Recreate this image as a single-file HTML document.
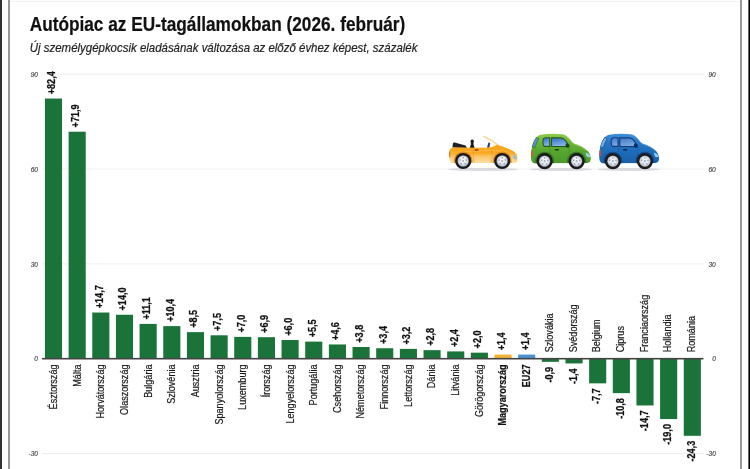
<!DOCTYPE html>
<html lang="hu"><head><meta charset="utf-8"><title>Autópiac az EU-tagállamokban</title>
<style>
html,body{margin:0;padding:0;background:#fff;}
body{width:750px;height:469px;overflow:hidden;position:relative;}
svg{display:block;position:absolute;left:0;top:0;}
text{font-family:"Liberation Sans",sans-serif;}
.lb{font-size:10.0px;fill:#1a1a1a;stroke:#1a1a1a;stroke-width:0.2px;}
.vl{font-size:10.0px;font-weight:bold;fill:#111;stroke:#111;stroke-width:0.25px;}
.b{font-weight:bold;fill:#111;stroke:#111;stroke-width:0.2px;}
.ax{font-size:6.6px;font-style:italic;fill:#444;stroke:#444;stroke-width:0.15px;}
</style></head><body>
<svg width="750" height="469" viewBox="0 0 750 469">

<defs>
<linearGradient id="gy" x1="0" y1="0" x2="0" y2="1"><stop offset="0" stop-color="#f9a61c"/><stop offset="0.45" stop-color="#f9a822"/><stop offset="0.62" stop-color="#fbc363"/><stop offset="1" stop-color="#fde0a4"/></linearGradient>
<linearGradient id="gg" x1="0" y1="0" x2="0" y2="1"><stop offset="0" stop-color="#8ecb4a"/><stop offset="0.3" stop-color="#6db53a"/><stop offset="0.6" stop-color="#56a530"/><stop offset="1" stop-color="#4a992b"/></linearGradient>
<linearGradient id="gb" x1="0" y1="0" x2="0" y2="1"><stop offset="0" stop-color="#3e90d8"/><stop offset="0.3" stop-color="#2678c6"/><stop offset="0.6" stop-color="#1d6cba"/><stop offset="1" stop-color="#1a60a8"/></linearGradient>
<linearGradient id="gwg" x1="0" y1="0" x2="0.3" y2="1"><stop offset="0" stop-color="#2f6fc8"/><stop offset="1" stop-color="#86b6ea"/></linearGradient>
<linearGradient id="gwb" x1="0" y1="0" x2="0.3" y2="1"><stop offset="0" stop-color="#3f7ac8"/><stop offset="1" stop-color="#7aaae0"/></linearGradient>
<radialGradient id="gh" cx="0.5" cy="0.45" r="0.55"><stop offset="0" stop-color="#ffffff"/><stop offset="0.55" stop-color="#e6e9f0"/><stop offset="1" stop-color="#b4bacb"/></radialGradient>
<g id="wheel"><circle r="8.1" fill="#1b1b1d"/><circle r="5.9" fill="#3a3a40"/><circle r="5.5" fill="url(#gh)"/>
<g fill="#8a90a6"><circle cx="0" cy="-3.3" r="0.75"/><circle cx="3.1" cy="-1" r="0.75"/><circle cx="1.9" cy="2.7" r="0.75"/><circle cx="-1.9" cy="2.7" r="0.75"/><circle cx="-3.1" cy="-1" r="0.75"/></g>
<circle r="1.1" fill="#a9aec0"/></g>
<clipPath id="cy"><path d="M451 163 Q448.4 158 449.1 152 Q449.5 147.6 454 147.4 L487 147.7 Q493 147.3 497.2 144.7 Q506 147.2 512 150.6 Q516.8 153.2 517.3 156.5 L517.4 160.6 Q517.2 162.9 514.8 163.1 L451 163 Z"/></clipPath>
<clipPath id="ch"><path d="M531 158 Q530.4 150 533.4 143 Q535.6 136.2 540.6 134.8 Q551 133.2 562 134.2 Q566.6 135 569.6 138.8 Q571.8 142 574 143.6 Q583 146.4 588.2 151.4 Q591.2 155 590.6 160 Q590.2 162.8 587.6 163 L534.2 163.2 Q531.2 162.6 531 158 Z"/></clipPath>
</defs>

<rect x="0" y="0" width="750" height="469" fill="#fff"/>
<rect x="0" y="0" width="2" height="469" fill="#333"/>
<rect x="748.4" y="0" width="1.6" height="469" fill="#000"/>
<rect x="8" y="0" width="2" height="469" fill="#999"/>
<rect x="740" y="0" width="2" height="469" fill="#999"/>
<rect x="10" y="1" width="730" height="1" fill="#f3f3f3"/>
<text x="29.7" y="31.1" font-size="19.4" font-weight="bold" fill="#111" stroke="#111" stroke-width="0.2" textLength="375.6" lengthAdjust="spacingAndGlyphs">Autópiac az EU-tagállamokban (2026. február)</text>
<text x="29.8" y="51.8" font-size="13.1" font-style="italic" fill="#222" stroke="#222" stroke-width="0.2" textLength="387.6" lengthAdjust="spacingAndGlyphs">Új személygépkocsik eladásának változása az előző évhez képest, százalék</text>
<rect x="42" y="73.71" width="662" height="1" fill="#efefef"/>
<text class="ax" x="38" y="77.01" text-anchor="end">90</text>
<text class="ax" x="715.8" y="77.01" text-anchor="end">90</text>
<rect x="42" y="168.54" width="662" height="1" fill="#efefef"/>
<text class="ax" x="38" y="171.84" text-anchor="end">60</text>
<text class="ax" x="715.8" y="171.84" text-anchor="end">60</text>
<rect x="42" y="263.37" width="662" height="1" fill="#efefef"/>
<text class="ax" x="38" y="266.67" text-anchor="end">30</text>
<text class="ax" x="715.8" y="266.67" text-anchor="end">30</text>
<rect x="42" y="453.03" width="662" height="1" fill="#efefef"/>
<text class="ax" x="38" y="456.33" text-anchor="end">-30</text>
<text class="ax" x="715.8" y="456.33" text-anchor="end">-30</text>
<text class="ax" x="38" y="360.90" text-anchor="end">0</text>
<text class="ax" x="715.8" y="360.90" text-anchor="end">0</text>
<g id="cars">
<!-- ground shadows -->
<ellipse cx="483" cy="169.4" rx="35" ry="1.5" fill="#d4d4da" opacity="0.85"/>
<ellipse cx="561" cy="169.4" rx="31" ry="1.5" fill="#d4d4da" opacity="0.85"/>
<ellipse cx="629" cy="169.4" rx="31" ry="1.5" fill="#d4d4da" opacity="0.85"/>
<!-- yellow convertible -->
<g>
<path d="M484.2 136.8 L498 145.2 L492 147.6 Z" fill="#fdf4de" opacity="0.8"/>
<path d="M483.5 136.3 Q491.5 139.6 498.4 145.4" stroke="#f3cf82" stroke-width="1.1" fill="none" stroke-linecap="round"/>
<path d="M452.9 143.4 Q453 142.4 454.6 142.5 L465.6 145.4 L467 148 L452.4 147.6 Z" fill="#202022"/>
<path d="M470.6 141.8 a1.7 1.7 0 1 1 3.2 0 l-0.4 2.2 l1.2 4 h-4.8 l1.2 -4 Z" fill="#1b1b1d"/>
<path d="M487 147.8 L488.4 142.6 L490.2 142.9 L489.4 147.8 Z" fill="#273a80"/>
<path d="M451 163 Q448.4 158 449.1 152 Q449.5 147.6 454 147.4 L487 147.7 Q493 147.3 497.2 144.7 Q506 147.2 512 150.6 Q516.8 153.2 517.3 156.5 L517.4 160.6 Q517.2 162.9 514.8 163.1 L451 163 Z" fill="url(#gy)"/>
<path d="M450 153 Q470 150.6 492 150.4 Q505 150.8 512 153.4" stroke="#fbc35e" stroke-width="0.7" fill="none" opacity="0.8"/>
<path d="M473.2 148 Q472.6 156 474.4 162.6 M491 148 Q493.6 155 491.4 162.6" stroke="#e59416" stroke-width="0.5" fill="none"/>
<rect x="474.6" y="149.3" width="4" height="1.5" rx="0.6" fill="#a8380f"/>
<path d="M513.4 154.4 Q516.9 155.2 517.1 159.6 L514 159 Q512.6 156.6 513.4 154.4 Z" fill="#9bbcd6"/>
<path d="M449.2 151.4 L450.5 151.4 L450.3 157 L449 157 Z" fill="#ea7a2a"/>
<g clip-path="url(#cy)"><circle cx="463.2" cy="161" r="9.5" fill="#d98618" opacity="0.85"/><circle cx="502.2" cy="161" r="9.5" fill="#d98618" opacity="0.85"/></g>
<use href="#wheel" x="463.2" y="161"/><use href="#wheel" x="502.2" y="161"/>
</g>
<!-- green hatchback -->
<g>
<path d="M531 158 Q530.4 150 533.4 143 Q535.6 136.2 540.6 134.8 Q551 133.2 562 134.2 Q566.6 135 569.6 138.8 Q571.8 142 574 143.6 Q583 146.4 588.2 151.4 Q591.2 155 590.6 160 Q590.2 162.8 587.6 163 L534.2 163.2 Q531.2 162.6 531 158 Z" fill="url(#gg)"/>
<path d="M563 134.6 Q567 135.6 569.6 139.4 Q571.6 142.4 574 144 Q582 146.4 587 150.8" stroke="#a5d868" stroke-width="0.8" fill="none" opacity="0.8"/>
<path d="M532.2 146.8 Q533.6 141 536.4 137.4 L538.8 138.6 Q536.4 142.8 534.8 147.8 Z" fill="#5a90d4" stroke="#2d5c1c" stroke-width="0.6"/>
<path d="M543 140 Q543.4 137.8 545.6 137.8 L549.6 137.8 L549.8 146.4 L544.4 146.4 Q542.6 146 543 140 Z" fill="url(#gwg)" stroke="#2b5a1b" stroke-width="1.1"/>
<path d="M551.4 137.8 L561 137.9 Q563.8 138.2 565.6 140.6 L568.6 145.2 Q569 146.6 567.6 146.6 L551.6 146.4 Z" fill="url(#gwg)" stroke="#2b5a1b" stroke-width="1.1"/>
<path d="M565.8 143.6 q3.4 -0.4 3.8 2.2 q0.2 1.8 -1.6 2 q-2.4 0.2 -2.4 -2 Z" fill="#1f4414"/>
<rect x="554.8" y="149" width="4.1" height="1.5" rx="0.6" fill="#1b3a12"/>
<path d="M550 147 Q549.6 155 550.6 162.8 M569.6 147.6 Q568.8 155 569.4 162.8" stroke="#3d8423" stroke-width="0.5" fill="none"/>
<path d="M585.8 152.4 Q589.8 153.4 590.4 157.2 L587.2 157 Q585.4 155 585.8 152.4 Z" fill="#93d8e6"/>
<path clip-path="url(#ch)" d="M530 150 L532.8 150 L532.9 156 L530 156 Z" fill="#d2603a"/>
<g clip-path="url(#ch)"><circle cx="544.6" cy="161.2" r="9.5" fill="#2f701c" opacity="0.85"/><circle cx="576.6" cy="161.2" r="9.5" fill="#2f701c" opacity="0.85"/></g>
<use href="#wheel" x="544.6" y="161.2"/><use href="#wheel" x="576.6" y="161.2"/>
</g>
<!-- blue hatchback -->
<g transform="translate(68.3,0)">
<path d="M531 158 Q530.4 150 533.4 143 Q535.6 136.2 540.6 134.8 Q551 133.2 562 134.2 Q566.6 135 569.6 138.8 Q571.8 142 574 143.6 Q583 146.4 588.2 151.4 Q591.2 155 590.6 160 Q590.2 162.8 587.6 163 L534.2 163.2 Q531.2 162.6 531 158 Z" fill="url(#gb)"/>
<path d="M563 134.6 Q567 135.6 569.6 139.4 Q571.6 142.4 574 144 Q582 146.4 587 150.8" stroke="#5aa6e6" stroke-width="0.8" fill="none" opacity="0.7"/>
<path d="M532.2 146.8 Q533.6 141 536.4 137.4 L538.8 138.6 Q536.4 142.8 534.8 147.8 Z" fill="#7fb2ea" stroke="#123c78" stroke-width="0.6"/>
<path d="M543 140 Q543.4 137.8 545.6 137.8 L549.6 137.8 L549.8 146.4 L544.4 146.4 Q542.6 146 543 140 Z" fill="url(#gwb)" stroke="#123c78" stroke-width="1.1"/>
<path d="M551.4 137.8 L561 137.9 Q563.8 138.2 565.6 140.6 L568.6 145.2 Q569 146.6 567.6 146.6 L551.6 146.4 Z" fill="url(#gwb)" stroke="#123c78" stroke-width="1.1"/>
<path d="M565.8 143.6 q3.4 -0.4 3.8 2.2 q0.2 1.8 -1.6 2 q-2.4 0.2 -2.4 -2 Z" fill="#0d2d5e"/>
<rect x="554.8" y="149" width="4.1" height="1.5" rx="0.6" fill="#0b2852"/>
<path d="M550 147 Q549.6 155 550.6 162.8 M569.6 147.6 Q568.8 155 569.4 162.8" stroke="#14549a" stroke-width="0.5" fill="none"/>
<path d="M585.8 152.4 Q589.8 153.4 590.4 157.2 L587.2 157 Q585.4 155 585.8 152.4 Z" fill="#86ccf4"/>
<path clip-path="url(#ch)" d="M530 150 L532.8 150 L532.9 156 L530 156 Z" fill="#b4563e"/>
<g clip-path="url(#ch)"><circle cx="544.6" cy="161.2" r="9.5" fill="#0f4384" opacity="0.85"/><circle cx="576.6" cy="161.2" r="9.5" fill="#0f4384" opacity="0.85"/></g>
<use href="#wheel" x="544.6" y="161.2"/><use href="#wheel" x="576.6" y="161.2"/>
</g>
</g>

<rect x="44.95" y="98.53" width="17.10" height="260.27" fill="#1a7339"/>
<text class="lb" text-anchor="end" transform="translate(56.90,364.5) rotate(-90) scale(0.908,1)">Észtország</text>
<text class="vl" text-anchor="start" transform="translate(55.40,94.23) rotate(-90) scale(0.908,1)">+82,4</text>
<rect x="68.61" y="131.72" width="17.10" height="227.08" fill="#1a7339"/>
<text class="lb" text-anchor="end" transform="translate(80.56,364.5) rotate(-90) scale(0.908,1)">Málta</text>
<text class="vl" text-anchor="start" transform="translate(79.06,127.42) rotate(-90) scale(0.908,1)">+71,9</text>
<rect x="92.27" y="312.53" width="17.10" height="46.27" fill="#1a7339"/>
<text class="lb" text-anchor="end" transform="translate(104.22,364.5) rotate(-90) scale(0.908,1)">Horvátország</text>
<text class="vl" text-anchor="start" transform="translate(102.72,308.23) rotate(-90) scale(0.908,1)">+14,7</text>
<rect x="115.93" y="314.75" width="17.10" height="44.05" fill="#1a7339"/>
<text class="lb" text-anchor="end" transform="translate(127.88,364.5) rotate(-90) scale(0.908,1)">Olaszország</text>
<text class="vl" text-anchor="start" transform="translate(126.38,310.45) rotate(-90) scale(0.908,1)">+14,0</text>
<rect x="139.59" y="323.91" width="17.10" height="34.89" fill="#1a7339"/>
<text class="lb" text-anchor="end" transform="translate(151.54,364.5) rotate(-90) scale(0.908,1)">Bulgária</text>
<text class="vl" text-anchor="start" transform="translate(150.04,319.61) rotate(-90) scale(0.908,1)">+11,1</text>
<rect x="163.25" y="326.13" width="17.10" height="32.67" fill="#1a7339"/>
<text class="lb" text-anchor="end" transform="translate(175.20,364.5) rotate(-90) scale(0.908,1)">Szlovénia</text>
<text class="vl" text-anchor="start" transform="translate(173.70,321.83) rotate(-90) scale(0.908,1)">+10,4</text>
<rect x="186.91" y="332.13" width="17.10" height="26.67" fill="#1a7339"/>
<text class="lb" text-anchor="end" transform="translate(198.86,364.5) rotate(-90) scale(0.908,1)">Ausztria</text>
<text class="vl" text-anchor="start" transform="translate(197.36,327.83) rotate(-90) scale(0.908,1)">+8,5</text>
<rect x="210.57" y="335.29" width="17.10" height="23.51" fill="#1a7339"/>
<text class="lb" text-anchor="end" transform="translate(222.52,364.5) rotate(-90) scale(0.908,1)">Spanyolország</text>
<text class="vl" text-anchor="start" transform="translate(221.02,330.99) rotate(-90) scale(0.908,1)">+7,5</text>
<rect x="234.23" y="336.87" width="17.10" height="21.93" fill="#1a7339"/>
<text class="lb" text-anchor="end" transform="translate(246.18,364.5) rotate(-90) scale(0.908,1)">Luxemburg</text>
<text class="vl" text-anchor="start" transform="translate(244.68,332.57) rotate(-90) scale(0.908,1)">+7,0</text>
<rect x="257.89" y="337.19" width="17.10" height="21.61" fill="#1a7339"/>
<text class="lb" text-anchor="end" transform="translate(269.84,364.5) rotate(-90) scale(0.908,1)">Írország</text>
<text class="vl" text-anchor="start" transform="translate(268.34,332.89) rotate(-90) scale(0.908,1)">+6,9</text>
<rect x="281.55" y="340.03" width="17.10" height="18.77" fill="#1a7339"/>
<text class="lb" text-anchor="end" transform="translate(293.50,364.5) rotate(-90) scale(0.908,1)">Lengyelország</text>
<text class="vl" text-anchor="start" transform="translate(292.00,335.73) rotate(-90) scale(0.908,1)">+6,0</text>
<rect x="305.21" y="341.61" width="17.10" height="17.19" fill="#1a7339"/>
<text class="lb" text-anchor="end" transform="translate(317.16,364.5) rotate(-90) scale(0.908,1)">Portugália</text>
<text class="vl" text-anchor="start" transform="translate(315.66,337.31) rotate(-90) scale(0.908,1)">+5,5</text>
<rect x="328.87" y="344.46" width="17.10" height="14.34" fill="#1a7339"/>
<text class="lb" text-anchor="end" transform="translate(340.82,364.5) rotate(-90) scale(0.908,1)">Csehország</text>
<text class="vl" text-anchor="start" transform="translate(339.32,340.16) rotate(-90) scale(0.908,1)">+4,6</text>
<rect x="352.53" y="346.99" width="17.10" height="11.81" fill="#1a7339"/>
<text class="lb" text-anchor="end" transform="translate(364.48,364.5) rotate(-90) scale(0.908,1)">Németország</text>
<text class="vl" text-anchor="start" transform="translate(362.98,342.69) rotate(-90) scale(0.908,1)">+3,8</text>
<rect x="376.19" y="348.25" width="17.10" height="10.55" fill="#1a7339"/>
<text class="lb" text-anchor="end" transform="translate(388.14,364.5) rotate(-90) scale(0.908,1)">Finnország</text>
<text class="vl" text-anchor="start" transform="translate(386.64,343.95) rotate(-90) scale(0.908,1)">+3,4</text>
<rect x="399.85" y="348.88" width="17.10" height="9.92" fill="#1a7339"/>
<text class="lb" text-anchor="end" transform="translate(411.80,364.5) rotate(-90) scale(0.908,1)">Lettország</text>
<text class="vl" text-anchor="start" transform="translate(410.30,344.58) rotate(-90) scale(0.908,1)">+3,2</text>
<rect x="423.51" y="350.15" width="17.10" height="8.65" fill="#1a7339"/>
<text class="lb" text-anchor="end" transform="translate(435.46,364.5) rotate(-90) scale(0.908,1)">Dánia</text>
<text class="vl" text-anchor="start" transform="translate(433.96,345.85) rotate(-90) scale(0.908,1)">+2,8</text>
<rect x="447.17" y="351.41" width="17.10" height="7.39" fill="#1a7339"/>
<text class="lb" text-anchor="end" transform="translate(459.12,364.5) rotate(-90) scale(0.908,1)">Litvánia</text>
<text class="vl" text-anchor="start" transform="translate(457.62,347.11) rotate(-90) scale(0.908,1)">+2,4</text>
<rect x="470.83" y="352.68" width="17.10" height="6.12" fill="#1a7339"/>
<text class="lb" text-anchor="end" transform="translate(482.78,364.5) rotate(-90) scale(0.908,1)">Görögország</text>
<text class="vl" text-anchor="start" transform="translate(481.28,348.38) rotate(-90) scale(0.908,1)">+2,0</text>
<rect x="494.49" y="354.57" width="17.10" height="4.23" fill="#f2b231"/>
<text class="lb b" text-anchor="end" transform="translate(506.44,364.5) rotate(-90) scale(0.908,1)">Magyarország</text>
<text class="vl" text-anchor="start" transform="translate(504.94,350.27) rotate(-90) scale(0.908,1)">+1,4</text>
<rect x="518.15" y="354.57" width="17.10" height="4.23" fill="#4a90d2"/>
<text class="lb b" text-anchor="end" transform="translate(530.10,364.5) rotate(-90) scale(0.908,1)">EU27</text>
<text class="vl" text-anchor="start" transform="translate(528.60,350.27) rotate(-90) scale(0.908,1)">+1,4</text>
<rect x="541.81" y="358.5" width="17.10" height="3.34" fill="#1a7339"/>
<text class="lb" text-anchor="start" transform="translate(553.16,352.3) rotate(-90) scale(0.908,1)">Szlovákia</text>
<text class="vl" text-anchor="end" transform="translate(553.16,366.84) rotate(-90) scale(0.908,1)">-0,9</text>
<rect x="565.47" y="358.5" width="17.10" height="4.93" fill="#1a7339"/>
<text class="lb" text-anchor="start" transform="translate(576.82,352.3) rotate(-90) scale(0.908,1)">Svédország</text>
<text class="vl" text-anchor="end" transform="translate(576.82,368.43) rotate(-90) scale(0.908,1)">-1,4</text>
<rect x="589.13" y="358.5" width="17.10" height="24.84" fill="#1a7339"/>
<text class="lb" text-anchor="start" transform="translate(600.48,352.3) rotate(-90) scale(0.908,1)">Belgium</text>
<text class="vl" text-anchor="end" transform="translate(600.48,388.34) rotate(-90) scale(0.908,1)">-7,7</text>
<rect x="612.79" y="358.5" width="17.10" height="34.64" fill="#1a7339"/>
<text class="lb" text-anchor="start" transform="translate(624.14,352.3) rotate(-90) scale(0.908,1)">Ciprus</text>
<text class="vl" text-anchor="end" transform="translate(624.14,398.14) rotate(-90) scale(0.908,1)">-10,8</text>
<rect x="636.45" y="358.5" width="17.10" height="46.97" fill="#1a7339"/>
<text class="lb" text-anchor="start" transform="translate(647.80,352.3) rotate(-90) scale(0.908,1)">Franciaország</text>
<text class="vl" text-anchor="end" transform="translate(647.80,410.47) rotate(-90) scale(0.908,1)">-14,7</text>
<rect x="660.11" y="358.5" width="17.10" height="60.56" fill="#1a7339"/>
<text class="lb" text-anchor="start" transform="translate(671.46,352.3) rotate(-90) scale(0.908,1)">Hollandia</text>
<text class="vl" text-anchor="end" transform="translate(671.46,424.06) rotate(-90) scale(0.908,1)">-19,0</text>
<rect x="683.77" y="358.5" width="17.10" height="77.31" fill="#1a7339"/>
<text class="lb" text-anchor="start" transform="translate(695.12,352.3) rotate(-90) scale(0.908,1)">Románia</text>
<text class="vl" text-anchor="end" transform="translate(695.12,440.81) rotate(-90) scale(0.908,1)">-24,3</text>
<rect x="42" y="357.9" width="661.5" height="1.6" fill="#444"/>
</svg>
</body></html>
